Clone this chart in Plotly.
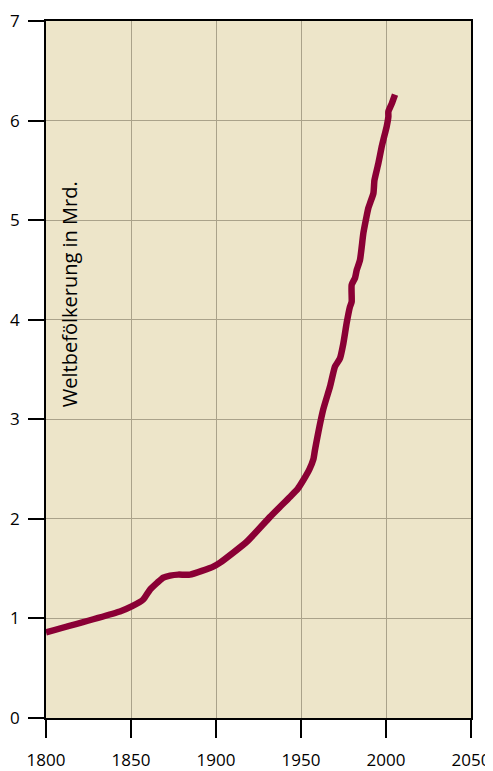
import plotly.graph_objects as go

# Weltbevölkerung (Mrd.) nach Jahr
jahre = [1800, 1843.5, 1850.4, 1857.2, 1861.2, 1865.5, 1869.0, 1873.0, 1877.8, 1884.7,
         1898.4, 1902.4, 1918.1, 1931.8, 1943.5, 1948.0, 1951.4, 1955.0, 1957.3, 1958.2,
         1963.1, 1967.1, 1970.0, 1972.9, 1974.9, 1976.9, 1978.8, 1979.8, 1979.8, 1981.8,
         1982.8, 1984.7, 1986.7, 1988.6, 1989.6, 1990.6, 1992.6, 1993.2, 1995.5, 1997.5,
         1998.5, 2000.4, 2001.4, 2001.4, 2003.4, 2005.3]
bevoelkerung = [0.86, 1.07, 1.12, 1.19, 1.29, 1.36, 1.41, 1.43, 1.44, 1.44,
                1.52, 1.56, 1.77, 2.02, 2.22, 2.30, 2.39, 2.50, 2.60, 2.69,
                3.10, 3.33, 3.53, 3.61, 3.76, 3.97, 4.13, 4.18, 4.35, 4.42,
                4.50, 4.60, 4.87, 5.04, 5.12, 5.17, 5.27, 5.40, 5.57, 5.74,
                5.81, 5.94, 6.04, 6.09, 6.17, 6.26]

x_ticks = [1800, 1850, 1900, 1950, 2000, 2050]
y_ticks = [0, 1, 2, 3, 4, 5, 6, 7]
y_titel = "Weltbefölkerung in Mrd."

fig = go.Figure()
fig.add_trace(go.Scatter(
    x=jahre, y=bevoelkerung, mode="lines",
    line=dict(color="#8a0035", width=6.5, shape="spline", smoothing=0.5),
    hoverinfo="skip", showlegend=False,
))

axis_common = dict(
    showline=True, linecolor="black", linewidth=1.6, mirror=True,
    ticks="outside", tickcolor="black", tickwidth=1.6,
    showgrid=True, gridcolor="#aaa28a", gridwidth=1, zeroline=False,
    tickfont=dict(family="Open Sans", size=17, color="black"),
    automargin=False,
)

fig.update_xaxes(range=[1800, 2050], tickvals=x_ticks, ticktext=[str(v) for v in x_ticks],
                 ticklen=18, ticklabelstandoff=8, **axis_common)
fig.update_yaxes(range=[0, 7], tickvals=y_ticks, ticktext=[str(v) for v in y_ticks],
                 ticklen=16, ticklabelstandoff=5, **axis_common)

fig.add_annotation(
    text=y_titel, xref="paper", yref="paper", x=0.054, y=0.608,
    xanchor="center", yanchor="middle", textangle=-90, showarrow=False,
    font=dict(family="Open Sans", size=20, color="black"),
)

# the page body has an 8px margin, so the figure is 8px smaller on each side
fig.update_layout(
    width=485, height=763,
    margin=dict(l=38, r=22, t=13, b=53),
    paper_bgcolor="white", plot_bgcolor="#ede5c9",
)

fig.write_html("out.html")
